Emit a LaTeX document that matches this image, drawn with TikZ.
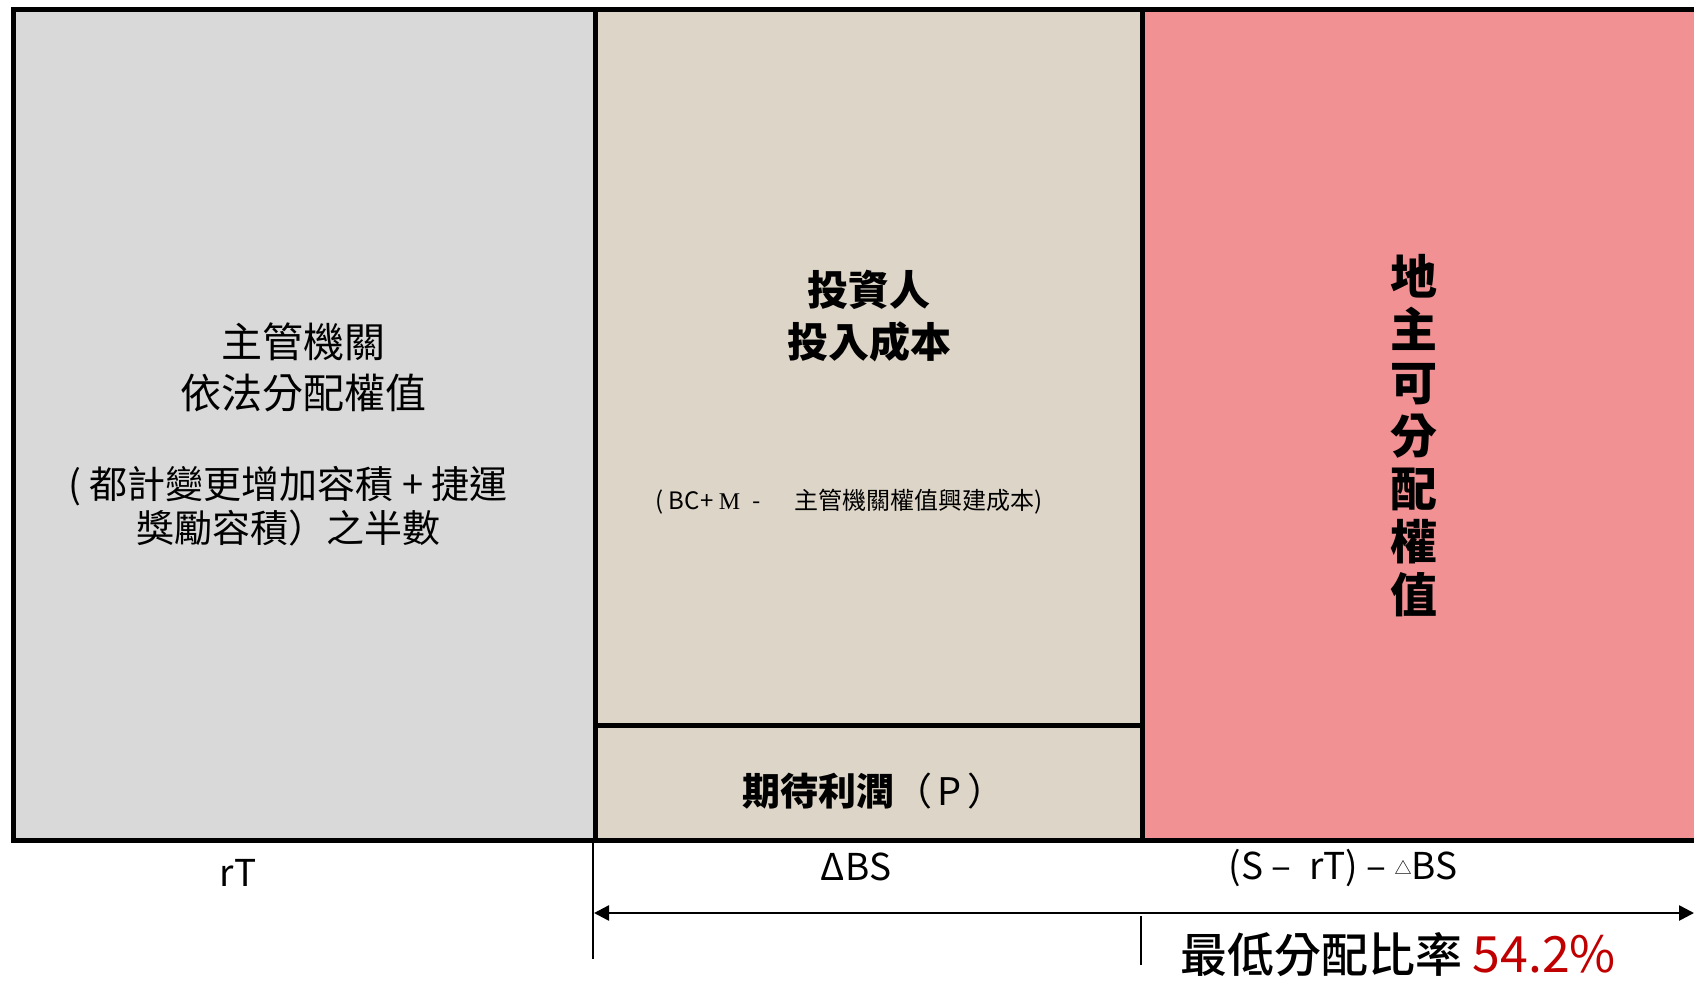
\documentclass[tikz,border=0pt]{standalone}
\usepackage{fontspec}
\setmainfont{Noto Sans CJK TC}
\newfontfamily\serifm{Liberation Serif}
\newfontfamily\cjkmed{Noto Sans CJK TC Medium}
\usetikzlibrary{arrows.meta}
\definecolor{graybox}{RGB}{217,217,217}
\definecolor{beigebox}{RGB}{221,214,200}
\definecolor{pinkbox}{RGB}{242,145,147}
\definecolor{redtxt}{RGB}{192,0,0}
\tikzset{
  border/.style={line width=5pt, draw=black, line join=miter},
  thinline/.style={line width=1.8pt, draw=black},
  lbl/.style={inner sep=0pt, align=center, text=black},
}
\begin{document}
\begin{tikzpicture}[x=1pt,y=-1pt]
\useasboundingbox (0,0) rectangle (1694,980);
% boxes
\fill[graybox] (13,9) rectangle (595,840);
\fill[beigebox] (595,9) rectangle (1142,840);
\fill[pinkbox] (1142,9) rectangle (1694,840);
\draw[border] (1694,9) -- (13,9) -- (13,840) -- (1694,840);
\draw[border] (595,9) -- (595,840);
\draw[border] (1142,9) -- (1142,840);
\draw[border] (595,725) -- (1142,725);
% left box text
\node[lbl, font=\fontsize{41}{51}\selectfont] (gov) at (303,367) {主管機關\\依法分配權值};
\node[lbl, font=\fontsize{38}{44}\selectfont] (govnote) at (288,506) {( 都計變更增加容積 + 捷運\\獎勵容積）之半數};
% middle box text
\node[lbl, font=\fontsize{41}{52}\selectfont\bfseries] (inv) at (869,316) {投資人\\投入成本};
\node[lbl, font=\fontsize{24}{28}\selectfont] (invnote) at (849,502) {( BC+ {\serifm M}\hspace{12pt}-\hspace{34pt}主管機關權值興建成本)};
\node[lbl, font=\fontsize{38}{44}\selectfont] (profit) at (874,791) {\textbf{期待利潤}（\hspace{5pt}P\hspace{5pt}）};
% right box text
\node[lbl, font=\fontsize{47}{53}\selectfont\bfseries] (owner) at (1414,436) {地\\主\\可\\分\\配\\權\\值};
% bottom labels
\node[lbl, font=\fontsize{37}{44}\selectfont] (rT) at (238,873) {rT};
\node[lbl, font=\fontsize{37}{44}\selectfont] (dBS) at (856,867) {ΔBS};
\node[lbl, font=\fontsize{37}{44}\selectfont] (rest) at (1343,868) {(S –\hspace{18pt}rT) – \raisebox{5pt}{\fontsize{17}{17}\selectfont △}BS};
\node[lbl, font=\fontsize{47}{52}\selectfont, anchor=west] (ratio) at (1180,955) {{\cjkmed 最低分配比率} \textcolor{redtxt}{\fontsize{50}{52}\selectfont 54.2\%}};
% dimension lines
\coordinate (vTop) at (593,840);
\coordinate (vBot) at (593,959);
\draw[thinline] (vTop) -- (vBot);
\coordinate (tTop) at (1141,916);
\coordinate (tBot) at (1141,965);
\draw[line width=1.5pt] (tTop) -- (tBot);
\coordinate (arrL) at (594,913);
\coordinate (arrR) at (1694,913);
\draw[line width=2.6pt, {Triangle[length=15pt,width=15pt]}-{Triangle[length=15pt,width=15pt]}] (arrL) -- (arrR);
\end{tikzpicture}
\end{document}
